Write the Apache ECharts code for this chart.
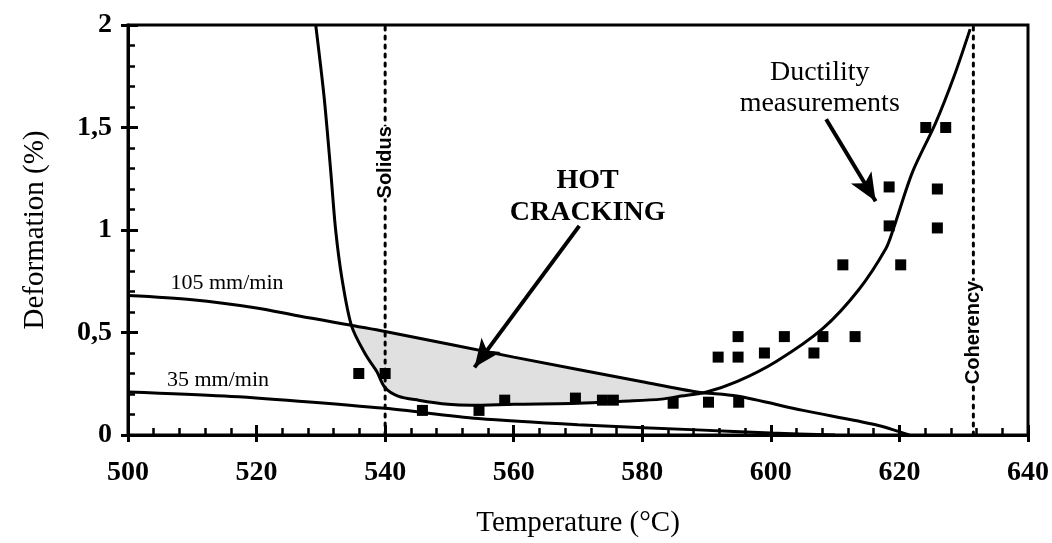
<!DOCTYPE html>
<html><head><meta charset="utf-8">
<script src="https://cdn.jsdelivr.net/npm/echarts@6/dist/echarts.min.js"></script>
<style>html,body{margin:0;padding:0;background:#fff;overflow:hidden}#c{width:1052px;height:543px}</style>
</head><body><div id="c"></div>
<script>
// ---- data ----
const xTicks = [500, 520, 540, 560, 580, 600, 620, 640];
const yTicks = [0, 0.5, 1, 1.5, 2];
const yTickLabels = ['0', '0,5', '1', '1,5', '2'];

const line105X = [500, 510, 520, 526.6, 540, 560, 580, 588.5, 594.7, 605, 616.3, 621.5];
const line105Y = [0.68, 0.66, 0.62, 0.58, 0.505, 0.38, 0.26, 0.21, 0.19, 0.12, 0.05, 0.0];

const line35X = [500, 515, 526.6, 540, 554.5, 570, 588.5, 600, 610];
const line35Y = [0.21, 0.19, 0.165, 0.13, 0.08, 0.05, 0.025, 0.01, 0.0];

const ductX = [529.2, 530.5, 531.5, 532.3, 533.3, 534.8, 537, 538.7, 540, 542, 545.2, 549.8, 553.4, 560, 570, 577, 583, 586, 590, 594.7, 600.9, 608.1, 613.7, 617.9, 619, 622, 625.6, 628.5, 631];
const ductY = [2.0, 1.65, 1.3, 1.0, 0.76, 0.53, 0.39, 0.31, 0.23, 0.19, 0.17, 0.15, 0.145, 0.15, 0.155, 0.165, 0.175, 0.19, 0.21, 0.26, 0.36, 0.52, 0.71, 0.91, 1.0, 1.28, 1.52, 1.75, 1.98];

const measX = [535.9, 540, 545.8, 554.6, 558.6, 569.6, 573.8, 575.5, 584.8, 590.3, 595, 591.8, 594.9, 594.9, 599, 602.1, 606.7, 608.1, 613.1, 611.2, 620.2, 618.4, 625.9, 618.4, 625.9, 624.1, 627.2];
const measY = [0.30, 0.30, 0.12, 0.12, 0.17, 0.18, 0.17, 0.17, 0.155, 0.16, 0.16, 0.38, 0.38, 0.48, 0.40, 0.48, 0.40, 0.48, 0.48, 0.83, 0.83, 1.02, 1.01, 1.21, 1.20, 1.50, 1.50];

// hot cracking zone outline (top: 105 line, bottom: ductility curve)
const zoneX = [534.6, 540, 560, 580, 589, 586, 583, 577, 570, 560, 553.4, 549.8, 545.2, 542, 540, 538.7, 537];
const zoneY = [0.535, 0.505, 0.38, 0.26, 0.21, 0.19, 0.175, 0.165, 0.155, 0.15, 0.145, 0.15, 0.17, 0.19, 0.23, 0.31, 0.39];

const solidusT = 540, coherencyT = 631.5;
const solidusLabelY = 1.33, coherencyLabelY = 0.50;
const hotArrow = [[570.2, 1.02], [553.9, 0.33]];
const ductArrow = [[608.6, 1.54], [616.3, 1.14]];
const hotLabelPos = [571.5, 1.16];
const ductLabelPos = [607.6, 1.69];
const label105Pos = [515.4, 0.738];
const label35Pos = [514, 0.267];

const zip = (a, b) => a.map((v, i) => [v, b[i]]);
const SERIF = '"Liberation Serif","DejaVu Serif",serif';
const SANS = '"Liberation Sans","DejaVu Sans",sans-serif';
const black = '#000';

const chart = echarts.init(document.getElementById('c'), null, {renderer: 'canvas', width: 1052, height: 543});

const lineStyle = {color: black, width: 3};
const baseLine = (data) => ({type: 'line', data, showSymbol: false, symbol: 'none', smooth: 0.3, lineStyle, silent: true, z: 3});
const txt = (value, text, extra) => ({value, label: Object.assign({show: true, formatter: text, position: 'inside', color: black, opacity: 1}, extra)});

const option = {
  backgroundColor: '#fff',
  animation: false,
  grid: {left: 128, right: 19, top: 25, bottom: 106, show: true, borderColor: black, borderWidth: 3},
  xAxis: [{
    type: 'value', min: 500, max: 640, interval: 20,
    name: 'Temperature (°C)', nameLocation: 'middle', nameGap: 74,
    nameTextStyle: {fontFamily: SERIF, fontSize: 29, color: black},
    axisLine: {show: true, onZero: false, lineStyle: {color: black, width: 3}},
    axisTick: {show: true, inside: true, length: 10, lineStyle: {color: black, width: 3}},
    minorTick: {show: true, splitNumber: 5, length: 7, lineStyle: {color: black, width: 2.5}},
    splitLine: {show: false},
    axisLabel: {fontFamily: SERIF, fontSize: 28, fontWeight: 'bold', color: black, margin: 24,
      formatter: v => xTicks.includes(v) ? String(v) : ''}
  }, {
    type: 'value', min: 500, max: 640, interval: 20, position: 'bottom',
    axisLine: {show: false}, axisLabel: {show: false}, splitLine: {show: false},
    axisTick: {show: true, inside: false, length: 7, lineStyle: {color: black, width: 3}}
  }],
  yAxis: [{
    type: 'value', min: 0, max: 2, interval: 0.5,
    name: 'Deformation (%)', nameLocation: 'middle', nameGap: 78, nameRotate: 90,
    nameTextStyle: {fontFamily: SERIF, fontSize: 29, color: black},
    axisLine: {show: true, onZero: false, lineStyle: {color: black, width: 3}},
    axisTick: {show: true, inside: true, length: 10, lineStyle: {color: black, width: 3}},
    minorTick: {show: true, splitNumber: 5, length: 7, lineStyle: {color: black, width: 2.5}},
    splitLine: {show: false},
    axisLabel: {fontFamily: SERIF, fontSize: 28, fontWeight: 'bold', color: black, margin: 16,
      formatter: v => { const i = yTicks.indexOf(v); return i >= 0 ? yTickLabels[i] : ''; }}
  }, {
    type: 'value', min: 0, max: 2, interval: 0.5, position: 'left',
    axisLine: {show: false}, axisLabel: {show: false}, splitLine: {show: false},
    axisTick: {show: true, inside: false, length: 7, lineStyle: {color: black, width: 3}}
  }],
  series: [
    {
      type: 'custom', silent: true, z: 1,
      data: [0],
      renderItem: (params, api) => {
        const pts = zoneX.map((x, i) => api.coord([x, zoneY[i]]));
        return {type: 'polygon', shape: {points: pts, smooth: 0.2}, style: {fill: '#e0e0e0', stroke: null}};
      }
    },
    Object.assign(baseLine(zip(line105X, line105Y)), {name: '105 mm/min'}),
    Object.assign(baseLine(zip(line35X, line35Y)), {name: '35 mm/min'}),
    Object.assign(baseLine(zip(ductX, ductY)), {name: 'ductility'}),
    {
      type: 'line', name: 'solidus', data: [[solidusT, 0], [solidusT, 2]], symbol: 'none', silent: true, z: 2,
      lineStyle: {color: black, width: 3, type: [3, 6], cap: 'round'}
    },
    {
      type: 'line', name: 'coherency', data: [[coherencyT, 0], [coherencyT, 2]], symbol: 'none', silent: true, z: 2,
      lineStyle: {color: black, width: 3, type: [3, 6], cap: 'round'}
    },
    {
      type: 'scatter', name: 'Ductility measurements', data: zip(measX, measY), symbol: 'rect', symbolSize: 11,
      itemStyle: {color: black, opacity: 1}, z: 5, silent: true
    },
    {
      type: 'scatter', name: 'labels', symbolSize: 0, silent: true, z: 6,
      itemStyle: {opacity: 1, color: black},
      data: [
        txt([solidusT, solidusLabelY], 'Solidus', {rotate: 90, fontFamily: SANS, fontSize: 20, fontWeight: 'bold', backgroundColor: '#fff', padding: [4, 0, 4, 0]}),
        txt([coherencyT, coherencyLabelY], 'Coherency', {rotate: 90, fontFamily: SANS, fontSize: 20, fontWeight: 'bold', backgroundColor: '#fff', padding: [4, 0, 4, 0]}),
        txt(hotLabelPos, 'HOT\nCRACKING', {align: 'center', fontFamily: SERIF, fontSize: 28, fontWeight: 'bold', lineHeight: 32}),
        txt(label105Pos, '105 mm/min', {fontFamily: SERIF, fontSize: 22}),
        txt(label35Pos, '35 mm/min', {fontFamily: SERIF, fontSize: 22}),
        txt(ductLabelPos, 'Ductility\nmeasurements', {align: 'center', fontFamily: SERIF, fontSize: 28, lineHeight: 31})
      ]
    },
    {
      type: 'line', name: 'arrows', data: [], silent: true, z: 4,
      markLine: {
        silent: true, animation: false, symbol: ['none', 'arrow'], symbolSize: [18, 28],
        label: {show: false},
        lineStyle: {color: black, width: 4, type: 'solid', opacity: 1},
        data: [
          [{coord: hotArrow[0]}, {coord: hotArrow[1]}],
          [{coord: ductArrow[0]}, {coord: ductArrow[1]}]
        ]
      }
    }
  ]
};
chart.setOption(option);
</script>
</body></html>
